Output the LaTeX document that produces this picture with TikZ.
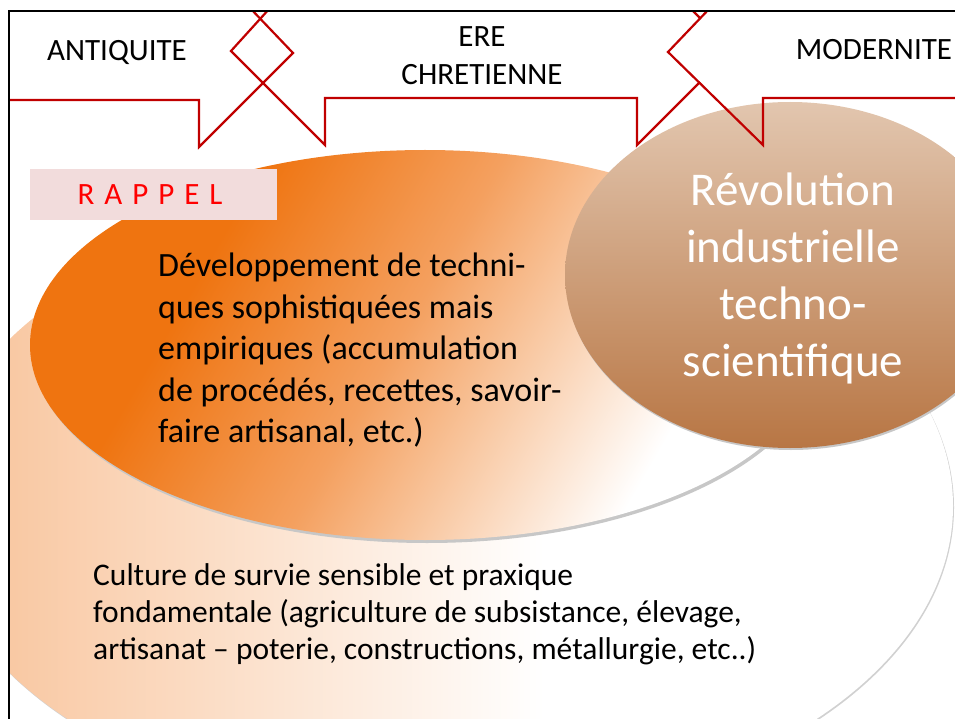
\documentclass[tikz,border=0pt]{standalone}
\usepackage{fontspec}
\setmainfont{Carlito}
\definecolor{bigA}{RGB}{249,201,164}
\definecolor{orA}{RGB}{239,116,16}
\definecolor{orB}{RGB}{244,160,95}
\definecolor{orC}{RGB}{250,212,182}
\definecolor{brT}{RGB}{226,198,175}
\definecolor{brM}{RGB}{206,156,116}
\definecolor{brB}{RGB}{184,118,68}
\definecolor{pinkbox}{RGB}{242,220,220}
\definecolor{bandred}{RGB}{192,0,0}
\pgfdeclarehorizontalshading{bigsh}{100bp}{color(0bp)=(bigA); color(29bp)=(bigA); color(55bp)=(white); color(100bp)=(white)}
\pgfdeclarehorizontalshading{orsh}{100bp}{color(0bp)=(orA); color(32bp)=(orA); color(48bp)=(orB); color(60bp)=(orC); color(70bp)=(white); color(100bp)=(white)}
\begin{document}
\begin{tikzpicture}[x=1pt,y=-1pt,
  shadowfill/.style={fill=black!22},
  redline/.style={draw=bandred, line width=2.2pt, line join=miter},
  label/.style={font=\fontsize{31}{38}\selectfont, inner sep=0pt, align=center},
  bodytext/.style={inner sep=0pt, align=left, anchor=north west}]
\useasboundingbox (0,0) rectangle (955,719);
\begin{scope}
  \clip (9,11) rectangle (955,719);
  % big ellipse
  \fill[black!18] (443,507.5) ellipse [x radius=511, y radius=313];
  \shade[shading=bigsh] (442,506) ellipse [x radius=511, y radius=313];
  % orange ellipse
  \fill[shadowfill] (427,348) ellipse [x radius=395, y radius=195];
  \shade[shading=orsh, shading angle=-30] (425,345) ellipse [x radius=395, y radius=195];
  % brown ellipse
  \fill[shadowfill] (791,277) ellipse [x radius=225, y radius=173];
  \shade[top color=brT, middle color=brM, bottom color=brB] (790,275) ellipse [x radius=225, y radius=173];
  % top band
  \fill[white] (9,11) rectangle (955,98);
  % red band lines
  \draw[redline] (9,100) -- (199,100) -- (199,147) -- (293,53) -- (250,8);
  \draw[redline] (270,8) -- (231,51) -- (325,145) -- (325,98) -- (637,98) -- (637,145) -- (700,82);
  \draw[redline] (690,8) -- (700,18);
  \draw[redline] (710,8) -- (668,52) -- (763,145) -- (763,98) -- (958,98);
\end{scope}
% frame
\draw[line width=2pt] (9,719) -- (9,11) -- (955,11);
% labels in band
\node[label] (antiq) at (117,52) {ANTIQUITE};
\node[label] (ere) at (482,56) {ERE\\CHRETIENNE};
\node[label] (modern) at (874,50) {MODERNITE};
% rappel box
\node[fill=pinkbox, minimum width=247pt, minimum height=51pt, inner sep=0pt, anchor=north west] (rbox) at (30,169) {};
\node[text=red, font=\fontsize{31}{36}\selectfont, inner sep=0pt] (rappel) at (150,195) {R\kern10pt A\kern10pt P\kern10pt P\kern10pt E\kern10pt L};
% texts
\node[bodytext, font=\fontsize{34}{41.5}\selectfont] (dev) at (158,253) {Développement de techni-\\ques sophistiquées mais\\empiriques (accumulation\\de procédés, recettes, savoir-\\faire artisanal, etc.)};
\node[align=center, inner sep=0pt, text=white, font=\fontsize{47}{57}\selectfont] (rev) at (793,278) {Révolution\\industrielle\\techno-\\scientifique};
\node[bodytext, font=\fontsize{31.5}{37}\selectfont] (cult) at (93,563) {Culture de survie sensible et praxique\\fondamentale (agriculture de subsistance, élevage,\\artisanat – poterie, constructions, métallurgie, etc..)};
\end{tikzpicture}
\end{document}
